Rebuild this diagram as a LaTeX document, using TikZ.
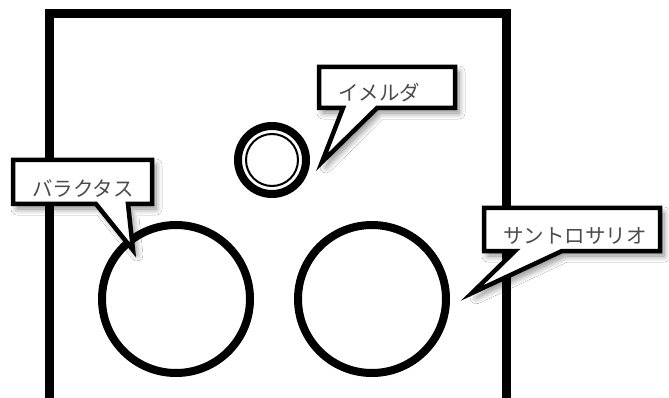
\documentclass[tikz,border=0pt]{standalone}
\usepackage{fontspec}
\newfontfamily\jpfont{Noto Sans CJK JP}
\usetikzlibrary{shadows.blur}
\begin{document}
\begin{tikzpicture}[x=1pt,y=-1pt,
  frameline/.style={line width=9pt, line join=miter},
  bigring/.style={circle, draw=black, fill=white, line width=8pt, inner sep=0pt, minimum size=148pt},
  smallring/.style={circle, draw=black, fill=white, line width=8pt, inner sep=0pt, minimum size=68pt},
  callout/.style={draw=black, fill=white, line width=4.5pt, line join=miter,
    blur shadow={shadow xshift=4pt, shadow yshift=-5pt, shadow blur steps=10, shadow blur radius=6pt, shadow opacity=45}},
  lbl/.style={font=\jpfont\fontsize{20.5}{20.5}\selectfont, text=black!70, inner sep=0pt}]
\useasboundingbox (0,0) rectangle (669,398);
\fill[white] (0,0) rectangle (669,398);
% frame, open at the bottom
\draw[frameline] (49,415) -- (49,14) -- (506,14) -- (506,415);
% circles
\node[smallring] (imelda) at (272,160) {};
\draw[line width=2pt] (imelda.center) circle[radius=26pt];
\node[bigring] (barak) at (176,299) {};
\node[bigring] (santo) at (372,299) {};
% callout tips
\coordinate (tipA) at (133,250);
\coordinate (tipB) at (322,162);
\coordinate (tipC) at (472,293);
% callouts
\path[callout] (13,160) -- (152,160) -- (152,204) -- (128,204) -- (tipA) -- (96,204) -- (13,204) -- cycle;
\path[callout] (319,67) -- (455,67) -- (455,108) -- (377,108) -- (tipB) -- (343,108) -- (319,108) -- cycle;
\path[callout] (484,208) -- (660,208) -- (660,251) -- (562,251) -- (tipC) -- (515,251) -- (484,251) -- cycle;
% labels
\node[lbl] (tA) at (83,189) {バラクタス};
\node[lbl] (tB) at (379,93) {イメルダ};
\node[lbl] (tC) at (575,236) {サントロサリオ};
\end{tikzpicture}
\end{document}
